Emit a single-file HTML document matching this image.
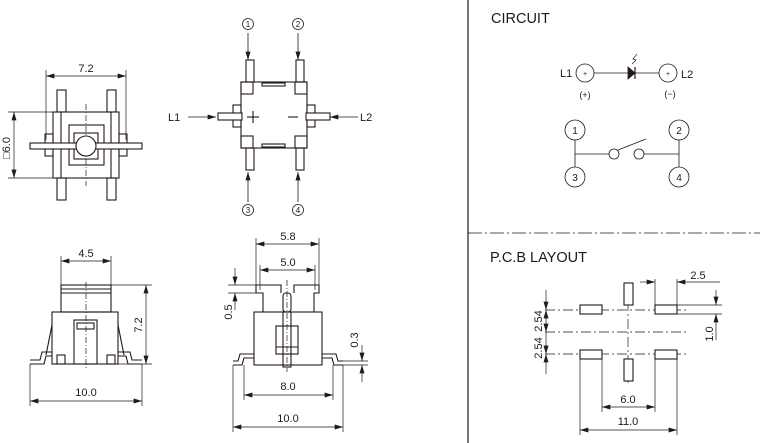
<!DOCTYPE html>
<html><head><meta charset="utf-8"><style>
html,body{margin:0;padding:0;background:#fff;}
svg{display:block;}
text{font-family:"Liberation Sans",sans-serif;fill:#231815;}
</style></head><body>
<svg width="760" height="443" viewBox="0 0 760 443" xmlns="http://www.w3.org/2000/svg">
<defs>
<marker id="a" viewBox="0 0 10 6" refX="10" refY="3" markerWidth="9" markerHeight="5" orient="auto-start-reverse" markerUnits="userSpaceOnUse"><path d="M0,0L10,3L0,6z" fill="#231815"/></marker>
</defs>
<g stroke="#231815" fill="none" stroke-width="1">
<!-- divider -->
<line x1="468" y1="0" x2="468" y2="443" stroke-width="1.2"/>
<line x1="468" y1="233" x2="760" y2="233" stroke-dasharray="14,3,2,3" stroke-width="0.8"/>

<!-- ===== Top-left view ===== -->
<g stroke-width="0.7">
<line x1="46" y1="70" x2="46" y2="140"/><line x1="126" y1="70" x2="126" y2="140"/>
<line x1="46" y1="76" x2="126" y2="76" marker-start="url(#a)" marker-end="url(#a)"/>
<line x1="8" y1="112" x2="56" y2="112"/><line x1="8" y1="178" x2="56" y2="178"/>
<line x1="14" y1="112" x2="14" y2="178" marker-start="url(#a)" marker-end="url(#a)"/>
<line x1="86" y1="104" x2="86" y2="186" stroke-dasharray="6,2,1,2"/>
</g>
<g stroke-width="1.1">
<rect x="57" y="90" width="9" height="22"/><rect x="107" y="90" width="9" height="22"/>
<rect x="57" y="178" width="9" height="22"/><rect x="107" y="178" width="9" height="22"/>
<rect x="53" y="112" width="66" height="66"/>
<line x1="61" y1="112" x2="61" y2="178"/><line x1="111" y1="112" x2="111" y2="178"/>
<rect x="69" y="125" width="35" height="40"/>
<rect x="74" y="133" width="24" height="26"/>
<rect x="45" y="134" width="8" height="22"/><rect x="119" y="134" width="8" height="22"/>
<rect x="30" y="143" width="112" height="6" fill="#fff"/>
<circle cx="86" cy="146" r="10" fill="#fff"/>
</g>

<!-- ===== Top-middle view ===== -->
<g stroke-width="0.8">
<line x1="248" y1="33" x2="248" y2="60" marker-end="url(#a)"/>
<line x1="298" y1="33" x2="298" y2="60" marker-end="url(#a)"/>
<line x1="248" y1="202" x2="248" y2="172" marker-end="url(#a)"/>
<line x1="298" y1="202" x2="298" y2="172" marker-end="url(#a)"/>
<line x1="188" y1="117" x2="216" y2="117" marker-end="url(#a)"/>
<line x1="358" y1="117" x2="330" y2="117" marker-end="url(#a)"/>
<circle cx="248" cy="24" r="5.5"/><circle cx="298" cy="24" r="5.5"/>
<circle cx="248" cy="210" r="5.5"/><circle cx="298" cy="210" r="5.5"/>
</g>
<g stroke-width="1.1">
<rect x="246" y="60" width="8" height="22"/><rect x="296" y="60" width="8" height="22"/>
<rect x="246" y="148" width="8" height="22"/><rect x="296" y="148" width="8" height="22"/>
<rect x="241" y="82" width="66" height="66"/>
<rect x="241" y="82" width="12" height="12"/><rect x="295" y="82" width="12" height="12"/>
<rect x="241" y="136" width="12" height="12"/><rect x="295" y="136" width="12" height="12"/>
<rect x="262" y="83" width="23" height="3"/><rect x="262" y="144" width="23" height="3"/>
<rect x="233" y="105" width="8" height="22"/><rect x="307" y="105" width="8" height="22"/>
<rect x="218" y="113" width="24" height="7" fill="#fff"/><rect x="306" y="113" width="24" height="7" fill="#fff"/>
<line x1="247" y1="117" x2="259" y2="117"/><line x1="253" y1="111" x2="253" y2="123"/>
<line x1="288" y1="117" x2="298" y2="117"/>
</g>

<!-- ===== Bottom-left side view ===== -->
<g stroke-width="0.7">
<line x1="61" y1="256" x2="61" y2="285"/><line x1="111" y1="256" x2="111" y2="285"/>
<line x1="61" y1="261" x2="111" y2="261" marker-start="url(#a)" marker-end="url(#a)"/>
<line x1="111" y1="285" x2="152" y2="285"/><line x1="118" y1="364" x2="152" y2="364"/>
<line x1="146" y1="285" x2="146" y2="364" marker-start="url(#a)" marker-end="url(#a)"/>
<line x1="30" y1="364" x2="30" y2="406"/><line x1="142" y1="364" x2="142" y2="406"/>
<line x1="30" y1="401" x2="142" y2="401" marker-start="url(#a)" marker-end="url(#a)"/>
<line x1="86" y1="282" x2="86" y2="368" stroke-dasharray="6,2,1,2"/>
</g>
<g stroke-width="1.1">
<rect x="61" y="285" width="50" height="27"/>
<line x1="61" y1="289" x2="111" y2="289"/><line x1="61" y1="293" x2="111" y2="293"/>
<rect x="52" y="312" width="66" height="52"/>
<path d="M52,325 L46,355 M118,325 L124,355"/>
<path d="M30,360 L40,360 L42,352 L52,352 M30,364 L44,364 L46,356 L52,356"/>
<path d="M142,360 L132,360 L130,352 L118,352 M142,364 L128,364 L126,356 L118,356"/>
<rect x="74" y="320" width="23" height="44"/><rect x="77" y="323" width="17" height="6"/>
<rect x="57" y="355" width="8" height="9"/><rect x="107" y="355" width="8" height="9"/>
</g>

<!-- ===== Bottom-middle side view ===== -->
<g stroke-width="0.7">
<line x1="256" y1="238" x2="256" y2="285"/><line x1="319" y1="238" x2="319" y2="285"/>
<line x1="256" y1="244" x2="319" y2="244" marker-start="url(#a)" marker-end="url(#a)"/>
<line x1="260" y1="265" x2="260" y2="290"/><line x1="315" y1="265" x2="315" y2="290"/>
<line x1="260" y1="270" x2="315" y2="270" marker-start="url(#a)" marker-end="url(#a)"/>
<line x1="228" y1="285" x2="256" y2="285"/><line x1="228" y1="293" x2="256" y2="293"/>
<line x1="235" y1="268" x2="235" y2="285" marker-end="url(#a)"/>
<line x1="235" y1="310" x2="235" y2="293" marker-end="url(#a)"/>
<line x1="244" y1="365" x2="244" y2="400"/><line x1="333" y1="365" x2="333" y2="400"/>
<line x1="244" y1="395" x2="333" y2="395" marker-start="url(#a)" marker-end="url(#a)"/>
<line x1="233" y1="365" x2="233" y2="432"/><line x1="343" y1="365" x2="343" y2="432"/>
<line x1="233" y1="427" x2="343" y2="427" marker-start="url(#a)" marker-end="url(#a)"/>
<line x1="343" y1="361" x2="368" y2="361"/><line x1="343" y1="365" x2="368" y2="365"/>
<line x1="362" y1="345" x2="362" y2="361" marker-end="url(#a)"/>
<line x1="362" y1="382" x2="362" y2="365" marker-end="url(#a)"/>
<line x1="287" y1="280" x2="287" y2="372" stroke-dasharray="6,2,1,2"/>
</g>
<g stroke-width="1.1">
<path d="M256,285 L281,285 L281,293 M294,293 L294,285 L319,285 L319,293 L314,293 L314,312 M256,285 L256,293 L263,293 L263,312"/>
<rect x="254" y="312" width="68" height="53"/>
<rect x="283" y="293" width="8" height="19" rx="3"/>
<rect x="283" y="312" width="8" height="55"/>
<rect x="276" y="326" width="22" height="28"/><line x1="276" y1="347" x2="298" y2="347"/>
<path d="M233,361 L238,361 L240,354 L254,354 M233,365 L242,365 L244,358 L254,358"/>
<path d="M343,361 L338,361 L336,354 L322,354 M343,365 L334,365 L332,358 L322,358"/>
</g>

<!-- ===== Circuit ===== -->
<g stroke-width="0.8">
<circle cx="585" cy="73" r="9"/><circle cx="668" cy="73" r="9"/>
<line x1="594" y1="73" x2="628" y2="73"/><line x1="635" y1="73" x2="659" y2="73"/>
<path d="M628,67 L635,73 L628,79z" fill="#231815"/><line x1="635" y1="67" x2="635" y2="79" stroke-width="1.2"/>
<path d="M632,64 L636,60 L633,59 L637,54" stroke-width="0.7"/>
<circle cx="575" cy="130" r="10"/><circle cx="679" cy="130" r="10"/>
<circle cx="575" cy="177" r="10"/><circle cx="679" cy="177" r="10"/>
<line x1="575" y1="140" x2="575" y2="167"/><line x1="679" y1="140" x2="679" y2="167"/>
<line x1="575" y1="154" x2="609" y2="154"/><line x1="644" y1="154" x2="679" y2="154"/>
<circle cx="614" cy="154" r="5"/><circle cx="639" cy="154" r="5"/>
<line x1="618" y1="150" x2="646" y2="139"/>
</g>

<!-- ===== PCB ===== -->
<g stroke-width="0.7">
<line x1="545" y1="310" x2="688" y2="310" stroke-dasharray="10,3,2,3"/>
<line x1="545" y1="332" x2="688" y2="332" stroke-dasharray="10,3,2,3"/>
<line x1="545" y1="354" x2="688" y2="354" stroke-dasharray="10,3,2,3"/>
<line x1="628" y1="283" x2="628" y2="385" stroke-dasharray="10,3,2,3"/>
<line x1="546" y1="290" x2="546" y2="310" marker-end="url(#a)"/>
<line x1="546" y1="310" x2="546" y2="332" marker-start="url(#a)" marker-end="url(#a)"/>
<line x1="546" y1="332" x2="546" y2="354" marker-end="url(#a)"/>
<line x1="546" y1="374" x2="546" y2="354" marker-end="url(#a)"/>
<line x1="655" y1="279" x2="655" y2="306"/><line x1="677" y1="279" x2="677" y2="306"/>
<line x1="640" y1="282" x2="655" y2="282" marker-end="url(#a)"/>
<line x1="720" y1="282" x2="677" y2="282" marker-end="url(#a)"/>
<line x1="677" y1="305" x2="722" y2="305"/><line x1="677" y1="314" x2="722" y2="314"/>
<line x1="716" y1="290" x2="716" y2="305" marker-end="url(#a)"/>
<line x1="716" y1="340" x2="716" y2="314" marker-end="url(#a)"/>
<line x1="602" y1="359" x2="602" y2="412"/><line x1="655" y1="359" x2="655" y2="412"/>
<line x1="602" y1="407" x2="655" y2="407" marker-start="url(#a)" marker-end="url(#a)"/>
<line x1="580" y1="359" x2="580" y2="435"/><line x1="677" y1="359" x2="677" y2="435"/>
<line x1="580" y1="430" x2="677" y2="430" marker-start="url(#a)" marker-end="url(#a)"/>
</g>
<g stroke-width="1.1" fill="#fff">
<rect x="580" y="305" width="22" height="9"/><rect x="655" y="305" width="22" height="9"/>
<rect x="580" y="350" width="22" height="9"/><rect x="655" y="350" width="22" height="9"/>
<rect x="624" y="283" width="9" height="22"/><rect x="624" y="359" width="9" height="22"/>
</g>
</g>

<!-- text -->
<g font-size="11">
<text x="86" y="72" text-anchor="middle">7.2</text>
<text x="10" y="148" text-anchor="middle" transform="rotate(-90 10 148)">□6.0</text>
<text x="248" y="27" text-anchor="middle" font-size="8">1</text>
<text x="298" y="27" text-anchor="middle" font-size="8">2</text>
<text x="248" y="213" text-anchor="middle" font-size="8">3</text>
<text x="298" y="213" text-anchor="middle" font-size="8">4</text>
<text x="168" y="121">L1</text>
<text x="360" y="121">L2</text>
<text x="86" y="257" text-anchor="middle">4.5</text>
<text x="142" y="325" text-anchor="middle" transform="rotate(-90 142 325)">7.2</text>
<text x="86" y="396" text-anchor="middle">10.0</text>
<text x="288" y="240" text-anchor="middle">5.8</text>
<text x="288" y="266" text-anchor="middle">5.0</text>
<text x="232" y="312" text-anchor="middle" transform="rotate(-90 232 312)">0.5</text>
<text x="358" y="340" text-anchor="middle" transform="rotate(-90 358 340)">0.3</text>
<text x="288" y="390" text-anchor="middle">8.0</text>
<text x="288" y="422" text-anchor="middle">10.0</text>
<text x="560" y="77">L1</text>
<text x="681" y="78">L2</text>
<text x="585" y="98" text-anchor="middle" font-size="9">(+)</text>
<text x="670" y="97" text-anchor="middle" font-size="9">(−)</text>
<text x="585" y="76" text-anchor="middle" font-size="7">+</text>
<text x="668" y="76" text-anchor="middle" font-size="7">+</text>
<text x="575" y="134" text-anchor="middle" font-size="10">1</text>
<text x="679" y="134" text-anchor="middle" font-size="10">2</text>
<text x="575" y="181" text-anchor="middle" font-size="10">3</text>
<text x="679" y="181" text-anchor="middle" font-size="10">4</text>
<text x="542" y="321" text-anchor="middle" transform="rotate(-90 542 321)">2.54</text>
<text x="542" y="348" text-anchor="middle" transform="rotate(-90 542 348)">2.54</text>
<text x="698" y="279" text-anchor="middle">2.5</text>
<text x="713" y="334" text-anchor="middle" transform="rotate(-90 713 334)">1.0</text>
<text x="628" y="403" text-anchor="middle">6.0</text>
<text x="628" y="425" text-anchor="middle">11.0</text>
</g>
<text x="491" y="23" font-size="14.5">CIRCUIT</text>
<text x="490" y="262" font-size="14.5">P.C.B LAYOUT</text>
</svg>
</body></html>
